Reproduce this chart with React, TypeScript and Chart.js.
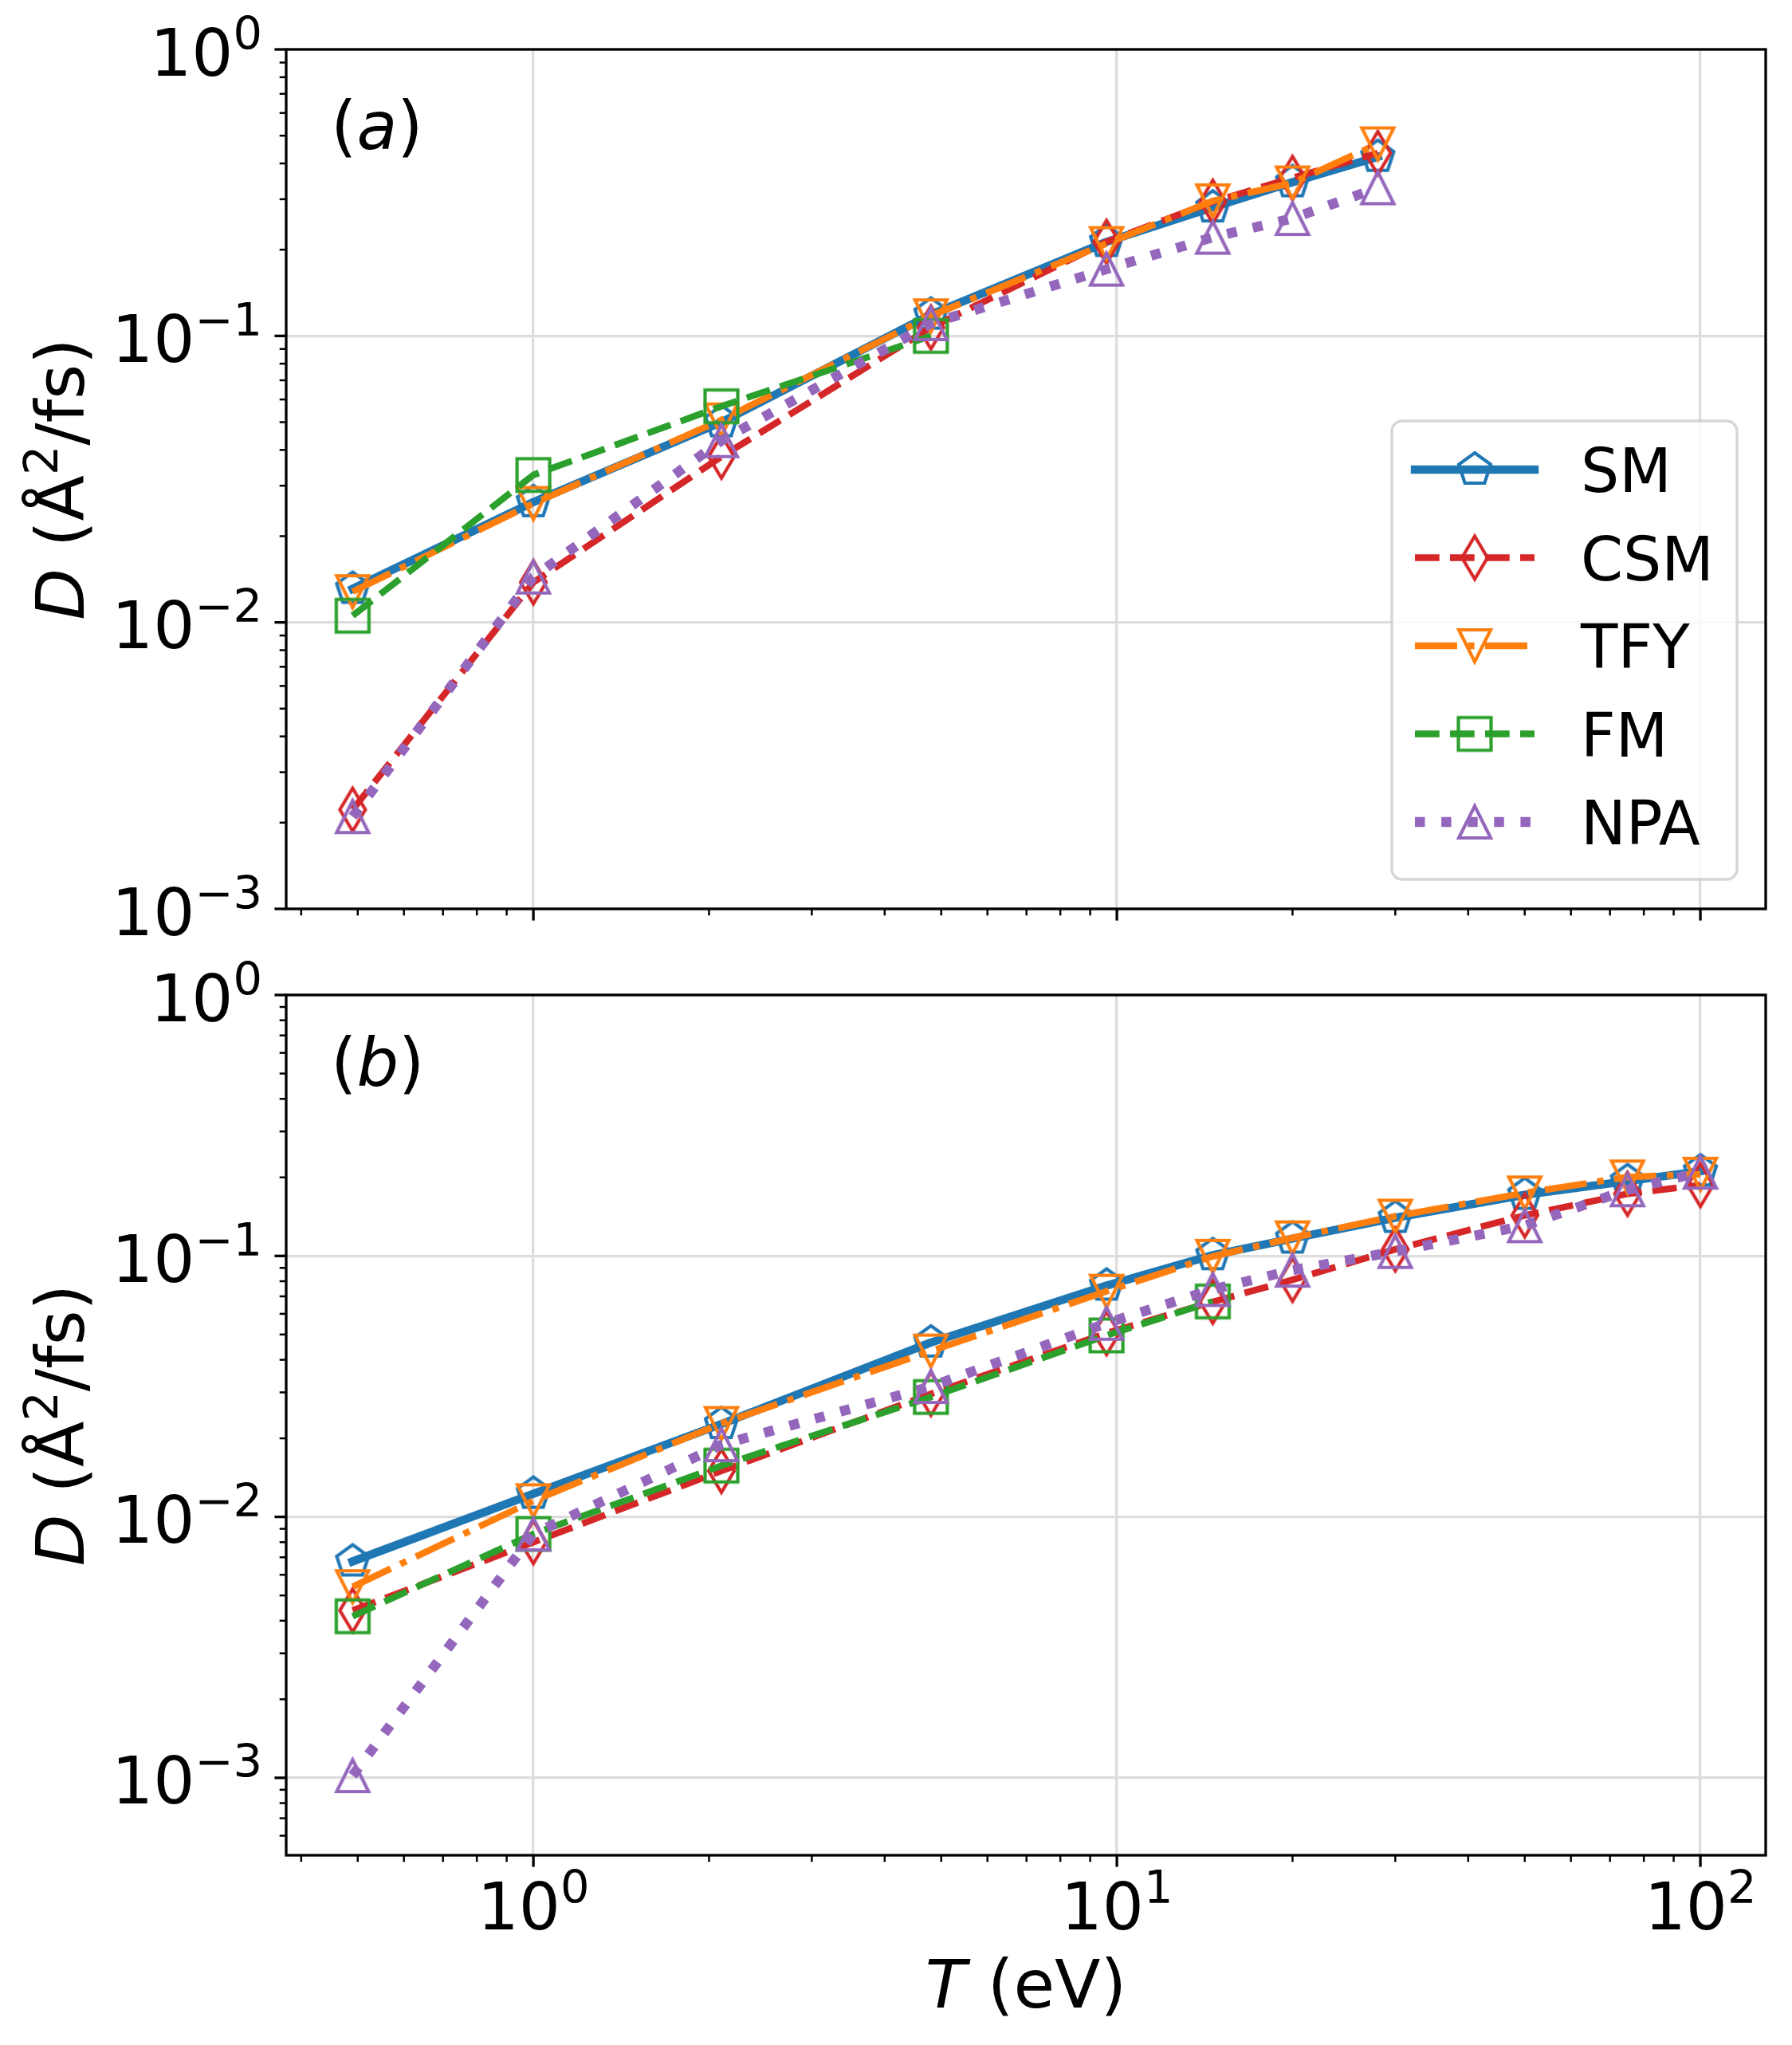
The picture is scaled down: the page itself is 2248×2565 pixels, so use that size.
import React, { useEffect, useRef } from 'react';
import { Chart, registerables } from 'chart.js';

Chart.register(...registerables);

// ---------------- data ----------------
// temperatures (eV)
const T_A = [0.49, 1.0, 2.1, 4.8, 9.6, 14.6, 20, 28];
const T_B = [0.49, 1.0, 2.1, 4.8, 9.6, 14.6, 20, 30, 50, 75, 100];

// panel (a) diffusion coefficients (Å^2/fs)
const SM_A = [0.0131, 0.0263, 0.05, 0.1187, 0.213, 0.281, 0.344, 0.422];
const CSM_A = [0.00222, 0.0138, 0.0379, 0.107, 0.213, 0.294, 0.356, 0.435];
const TFY_A = [0.0128, 0.026, 0.0509, 0.1175, 0.21, 0.296, 0.342, 0.468];
const FM_A = [0.01055, 0.0327, 0.0568, 0.1];
const NPA_A = [0.0021, 0.0144, 0.0431, 0.1104, 0.171, 0.221, 0.257, 0.329];

// panel (b)
const SM_B = [0.00675, 0.01227, 0.0227, 0.0466, 0.077, 0.1007, 0.1166, 0.14, 0.1716, 0.1936, 0.211];
const CSM_B = [0.00438, 0.008, 0.015, 0.0296, 0.0506, 0.0667, 0.081, 0.106, 0.143, 0.173, 0.187];
const TFY_B = [0.0054, 0.01153, 0.0228, 0.0432, 0.0732, 0.0996, 0.1173, 0.142, 0.1743, 0.2007, 0.2056];
const FM_B = [0.00416, 0.0086, 0.01572, 0.0288, 0.0496, 0.0669];
const NPA_B = [0.00102, 0.0086, 0.0189, 0.0316, 0.0552, 0.0744, 0.0882, 0.104, 0.1306, 0.1793, 0.2094];

const SERIES_NAMES = ['SM', 'CSM', 'TFY', 'FM', 'NPA'];
const SERIES_COLORS = ['#1f77b4', '#d62728', '#ff7f0e', '#2ca02c', '#9467bd'];

const X_TICK_EXPONENTS = [0, 1, 2];
const Y_TICK_EXPONENTS = [0, -1, -2, -3];
const X_LIMITS = [0.377, 129.4];
const Y_LIMITS_A = [1e-3, 1];
const Y_LIMITS_B = [5.05e-4, 1];

// ---------------- styles ----------------
const FONT = '"DejaVu Sans"';
const TICK_FS = 82;
const SUP_FS = 58;
const LEGEND_FS = 76;

const LINE_WIDTHS = [10.4, 8.3, 8.3, 8.3, 12.5];
const DASHES: number[][] = [
  [],
  [30.7, 13.3],
  [53, 13.3, 8.3, 13.3],
  [30.7, 13.3],
  [12.5, 20.6],
];
const CAPS: CanvasLineCap[] = ['square', 'butt', 'butt', 'butt', 'butt'];
const MARKERS = ['pentagon', 'diamond', 'triDown', 'square', 'triUp'];

function makeMarker(kind: string, color: string): HTMLCanvasElement {
  const c = document.createElement('canvas');
  c.width = 72;
  c.height = 72;
  const g = c.getContext('2d') as CanvasRenderingContext2D;
  g.strokeStyle = color;
  g.lineWidth = 4.2;
  g.lineJoin = 'miter';
  g.miterLimit = 10;
  g.translate(36, 36);
  g.beginPath();
  if (kind === 'pentagon') {
    const R = 21;
    for (let k = 0; k < 5; k++) {
      const a = -Math.PI / 2 + (k * 2 * Math.PI) / 5;
      const px = R * Math.cos(a);
      const py = R * Math.sin(a);
      if (k === 0) g.moveTo(px, py);
      else g.lineTo(px, py);
    }
  } else if (kind === 'diamond') {
    g.moveTo(0, -27);
    g.lineTo(16, 0);
    g.lineTo(0, 27);
    g.lineTo(-16, 0);
  } else if (kind === 'triDown') {
    g.moveTo(-20, -20);
    g.lineTo(20, -20);
    g.lineTo(0, 20);
  } else if (kind === 'triUp') {
    g.moveTo(0, -20);
    g.lineTo(20, 20);
    g.lineTo(-20, 20);
  } else {
    g.rect(-20.5, -20.5, 41, 41);
  }
  g.closePath();
  g.stroke();
  return c;
}

function isPow10(v: number) {
  const l = Math.log10(v);
  return Math.abs(l - Math.round(l)) < 1e-7;
}

function logTicks(min: number, max: number) {
  const out: number[] = [];
  const e0 = Math.floor(Math.log10(min));
  const e1 = Math.ceil(Math.log10(max));
  for (let e = e0; e <= e1; e++) {
    for (let m = 1; m <= 9; m++) {
      const v = m * Math.pow(10, e);
      if (v >= min * (1 - 1e-9) && v <= max * (1 + 1e-9)) out.push(v);
    }
  }
  return out;
}

type Part = { t: string; italic?: boolean; sup?: boolean };

function partFont(p: Part, size: number) {
  const s = p.sup ? size * 0.7 : size;
  return `${p.italic ? 'italic ' : ''}${s}px ${FONT}`;
}

function measureParts(ctx: CanvasRenderingContext2D, parts: Part[], size: number) {
  let w = 0;
  for (const p of parts) {
    ctx.font = partFont(p, size);
    w += ctx.measureText(p.t).width;
  }
  return w;
}

function drawParts(ctx: CanvasRenderingContext2D, parts: Part[], x: number, y: number, size: number) {
  let cx = x;
  ctx.textAlign = 'left';
  ctx.textBaseline = 'alphabetic';
  for (const p of parts) {
    ctx.font = partFont(p, size);
    ctx.fillText(p.t, cx, p.sup ? y - 33 : y);
    cx += ctx.measureText(p.t).width;
  }
}

function powParts(e: number): Part[] {
  return [{ t: '10' }, { t: e < 0 ? '\u2212' + String(-e) : String(e), sup: true }];
}

function buildDatasets(T: number[], series: number[][], markers: HTMLCanvasElement[]) {
  return series.map((vals, i) => ({
    label: SERIES_NAMES[i],
    data: vals.map((v, k) => ({ x: T[k], y: v })),
    showLine: true,
    borderColor: SERIES_COLORS[i],
    backgroundColor: 'transparent',
    borderWidth: LINE_WIDTHS[i],
    borderDash: DASHES[i],
    borderCapStyle: CAPS[i],
    borderJoinStyle: 'round' as CanvasLineJoin,
    pointStyle: markers[i],
    pointRadius: 5,
    pointHoverRadius: 5,
    order: 5 - i,
    tension: 0,
  }));
}

function makePlugin(panel: 'a' | 'b', markers: HTMLCanvasElement[]) {
  return {
    id: 'figure_' + panel,
    afterDatasetsDraw(chart: any) {
      const ctx: CanvasRenderingContext2D = chart.ctx;
      const ca = chart.chartArea;
      const xs = chart.scales.x;
      const ys = chart.scales.y;
      ctx.save();
      ctx.setLineDash([]);
      ctx.fillStyle = '#000';
      ctx.strokeStyle = '#000';

      // frame
      ctx.lineWidth = 3.3;
      ctx.strokeRect(ca.left, ca.top, ca.right - ca.left, ca.bottom - ca.top);

      // x ticks
      for (const v of logTicks(xs.min, xs.max)) {
        const major = isPow10(v);
        const px = xs.getPixelForValue(v);
        ctx.lineWidth = major ? 3.3 : 2.5;
        ctx.beginPath();
        ctx.moveTo(px, ca.bottom);
        ctx.lineTo(px, ca.bottom + (major ? 14.6 : 8.3));
        ctx.stroke();
      }
      // y ticks
      for (const v of logTicks(ys.min, ys.max)) {
        const major = isPow10(v);
        const py = ys.getPixelForValue(v);
        ctx.lineWidth = major ? 3.3 : 2.5;
        ctx.beginPath();
        ctx.moveTo(ca.left, py);
        ctx.lineTo(ca.left - (major ? 14.6 : 8.3), py);
        ctx.stroke();
      }

      // y tick labels
      for (const e of Y_TICK_EXPONENTS) {
        const v = Math.pow(10, e);
        if (v < ys.min * (1 - 1e-9) || v > ys.max * (1 + 1e-9)) continue;
        const py = ys.getPixelForValue(v);
        const parts = powParts(e);
        const w = measureParts(ctx, parts, TICK_FS);
        drawParts(ctx, parts, ca.left - 30 - w, py + 32.5, TICK_FS);
      }

      // y title
      const cy = (ca.top + ca.bottom) / 2;
      const yTitle: Part[] = [{ t: 'D', italic: true }, { t: ' (Å' }, { t: '2', sup: true }, { t: '/fs)' }];
      const wy = measureParts(ctx, yTitle, 84);
      ctx.save();
      ctx.translate(105, cy);
      ctx.rotate(-Math.PI / 2);
      drawParts(ctx, yTitle, -wy / 2, 0, 84);
      ctx.restore();

      // panel label
      const lab: Part[] = [{ t: '(' }, { t: panel, italic: true }, { t: ')' }];
      drawParts(ctx, lab, 415, ca.top + (panel === 'a' ? 125 : 114), 83);

      if (panel === 'b') {
        // x tick labels
        for (const e of X_TICK_EXPONENTS) {
          const v = Math.pow(10, e);
          const px = xs.getPixelForValue(v);
          const parts = powParts(e);
          const w = measureParts(ctx, parts, TICK_FS);
          drawParts(ctx, parts, px - w / 2, ca.bottom + 93, TICK_FS);
        }
        // x title
        const xTitle: Part[] = [{ t: 'T', italic: true }, { t: ' (eV)' }];
        const wx = measureParts(ctx, xTitle, 84);
        drawParts(ctx, xTitle, (ca.left + ca.right) / 2 - wx / 2, ca.bottom + 191, 84);
      }

      if (panel === 'a') {
        // legend
        const bx = 1746, by = 528, bw = 433, bh = 575, r = 13;
        ctx.beginPath();
        ctx.moveTo(bx + r, by);
        ctx.arcTo(bx + bw, by, bx + bw, by + bh, r);
        ctx.arcTo(bx + bw, by + bh, bx, by + bh, r);
        ctx.arcTo(bx, by + bh, bx, by, r);
        ctx.arcTo(bx, by, bx + bw, by, r);
        ctx.closePath();
        ctx.fillStyle = 'rgba(255,255,255,0.8)';
        ctx.fill();
        ctx.strokeStyle = 'rgba(204,204,204,0.8)';
        ctx.lineWidth = 3.5;
        ctx.stroke();

        for (let i = 0; i < SERIES_NAMES.length; i++) {
          const ry = 589 + i * 110.5;
          ctx.save();
          ctx.strokeStyle = SERIES_COLORS[i];
          ctx.lineWidth = LINE_WIDTHS[i];
          ctx.lineCap = CAPS[i];
          ctx.setLineDash(DASHES[i]);
          ctx.lineDashOffset = 0;
          ctx.beginPath();
          ctx.moveTo(1775, ry);
          ctx.lineTo(1925, ry);
          ctx.stroke();
          ctx.restore();
          const m = markers[i];
          ctx.drawImage(m, 1850 - m.width / 2, ry - m.height / 2);
          ctx.fillStyle = '#000';
          ctx.font = `${LEGEND_FS}px ${FONT}`;
          ctx.textAlign = 'left';
          ctx.textBaseline = 'alphabetic';
          ctx.fillText(SERIES_NAMES[i], 1983, ry + 28);
        }
      }
      ctx.restore();
    },
  };
}

function makeConfig(panel: 'a' | 'b', T: number[], series: number[][], yLim: number[], padding: any, markers: HTMLCanvasElement[]) {
  const gridColor = (c: any) => (c.tick && isPow10(c.tick.value) ? '#dddddd' : 'rgba(0,0,0,0)');
  return {
    type: 'scatter' as const,
    data: { datasets: buildDatasets(T, series, markers) as any },
    options: {
      responsive: false,
      devicePixelRatio: 1,
      animation: false as const,
      events: [] as any,
      layout: { padding, autoPadding: false },
      plugins: { legend: { display: false }, tooltip: { enabled: false } },
      scales: {
        x: {
          type: 'logarithmic' as const,
          min: X_LIMITS[0],
          max: X_LIMITS[1],
          ticks: { display: false },
          grid: { color: gridColor, lineWidth: 3.3, drawTicks: false },
          border: { display: false },
          afterFit: (s: any) => {
            s.height = 0;
          },
        },
        y: {
          type: 'logarithmic' as const,
          min: yLim[0],
          max: yLim[1],
          ticks: { display: false },
          grid: { color: gridColor, lineWidth: 3.3, drawTicks: false },
          border: { display: false },
          afterFit: (s: any) => {
            s.width = 0;
          },
        },
      },
    },
    plugins: [makePlugin(panel, markers)],
  };
}

export default function App() {
  const refA = useRef<HTMLCanvasElement>(null);
  const refB = useRef<HTMLCanvasElement>(null);

  useEffect(() => {
    const markers = MARKERS.map((k, i) => makeMarker(k, SERIES_COLORS[i]));
    const chartA = new Chart(
      refA.current as HTMLCanvasElement,
      makeConfig('a', T_A, [SM_A, CSM_A, TFY_A, FM_A, NPA_A], Y_LIMITS_A, { left: 359, right: 33, top: 62, bottom: 50 }, markers) as any
    );
    const chartB = new Chart(
      refB.current as HTMLCanvasElement,
      makeConfig('b', T_B, [SM_B, CSM_B, TFY_B, FM_B, NPA_B], Y_LIMITS_B, { left: 359, right: 33, top: 58, bottom: 238 }, markers) as any
    );
    return () => {
      chartA.destroy();
      chartB.destroy();
    };
  }, []);

  return (
    <div style={{ position: 'absolute', left: 0, top: 0, width: 2248, height: 2565, background: '#ffffff' }}>
      <canvas ref={refA} width={2248} height={1190} style={{ position: 'absolute', left: 0, top: 0, width: 2248, height: 1190 }} />
      <canvas ref={refB} width={2248} height={1375} style={{ position: 'absolute', left: 0, top: 1190, width: 2248, height: 1375 }} />
    </div>
  );
}
